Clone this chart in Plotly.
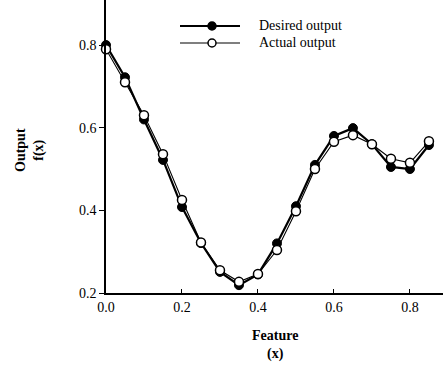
import plotly.graph_objects as go

feature_x = [0.0, 0.05, 0.10, 0.15, 0.20, 0.25, 0.30, 0.35, 0.40, 0.45,
             0.50, 0.55, 0.60, 0.65, 0.70, 0.75, 0.80, 0.85]
desired = [0.800, 0.722, 0.620, 0.522, 0.408, 0.321, 0.251, 0.219, 0.245, 0.320,
           0.410, 0.510, 0.580, 0.599, 0.560, 0.505, 0.500, 0.558]
actual = [0.790, 0.710, 0.630, 0.536, 0.425, 0.322, 0.255, 0.227, 0.246, 0.304,
          0.398, 0.500, 0.566, 0.582, 0.560, 0.525, 0.515, 0.567]
x_ticks = [0.0, 0.2, 0.4, 0.6, 0.8]
y_ticks = [0.2, 0.4, 0.6, 0.8]

SERIF = "Liberation Serif, Times New Roman, serif"

fig = go.Figure()
fig.add_trace(go.Scatter(
    x=feature_x, y=desired, mode="lines+markers", name="Desired output",
    line=dict(color="black", width=2.2),
    marker=dict(symbol="circle", size=9, color="black", line=dict(color="black", width=1)),
    showlegend=False, cliponaxis=False))
fig.add_trace(go.Scatter(
    x=feature_x, y=actual, mode="lines+markers", name="Actual output",
    line=dict(color="black", width=1.1),
    marker=dict(symbol="circle", size=9, color="white", line=dict(color="black", width=1.5)),
    showlegend=False, cliponaxis=False))

L, T, B = 106, 0, 74
W, H = 443, 367
pw, ph = W - L, H - T - B

def px(x):
    return (x - L) / pw

def py(y):
    return (H - B - y) / ph

shapes = []
annotations = []
legend_items = [("Desired output", 26, "black", 2.2), ("Actual output", 43, "white", 1.1)]
for label, yy, fill, lw in legend_items:
    shapes.append(dict(type="line", xref="paper", yref="paper",
                       x0=px(180), x1=px(240), y0=py(yy), y1=py(yy),
                       line=dict(color="black", width=lw)))
    shapes.append(dict(type="circle", xref="paper", yref="paper",
                       x0=px(208), x1=px(216), y0=py(yy + 4), y1=py(yy - 4),
                       fillcolor=fill, line=dict(color="black", width=1.5)))
    annotations.append(dict(xref="paper", yref="paper", x=px(257), y=py(yy),
                            text=label, showarrow=False, xanchor="left", yanchor="middle",
                            font=dict(family=SERIF, size=14, color="black")))

annotations.append(dict(xref="paper", yref="paper", x=px(275), y=py(345),
                        text="<b>Feature<br>(x)</b>", showarrow=False,
                        xanchor="center", yanchor="middle",
                        font=dict(family=SERIF, size=14, color="black")))
annotations.append(dict(xref="paper", yref="paper", x=px(30), y=py(150),
                        text="<b>Output<br>f(x)</b>", showarrow=False, textangle=-90,
                        xanchor="center", yanchor="middle",
                        font=dict(family=SERIF, size=14, color="black")))

fig.update_layout(
    width=W, height=H,
    margin=dict(l=L, r=0, t=T, b=B),
    paper_bgcolor="white", plot_bgcolor="white",
    shapes=shapes, annotations=annotations,
    xaxis=dict(range=[0, 0.887], tickvals=x_ticks, ticktext=["0.0", "0.2", "0.4", "0.6", "0.8"],
               ticks="inside", ticklen=4, tickcolor="black", showgrid=False, zeroline=False,
               showline=True, linecolor="black", linewidth=1.5,
               tickfont=dict(family=SERIF, size=14, color="black")),
    yaxis=dict(range=[0.2, 0.909], tickvals=y_ticks, ticktext=["0.2", "0.4", "0.6", "0.8"],
               ticks="outside", ticklen=5, tickcolor="black", showgrid=False, zeroline=False,
               showline=True, linecolor="black", linewidth=1.5,
               tickfont=dict(family=SERIF, size=14, color="black")),
)

fig.write_html("out.html", config={"displayModeBar": False},
               post_script="document.body.style.margin='0';document.body.style.padding='0';")
